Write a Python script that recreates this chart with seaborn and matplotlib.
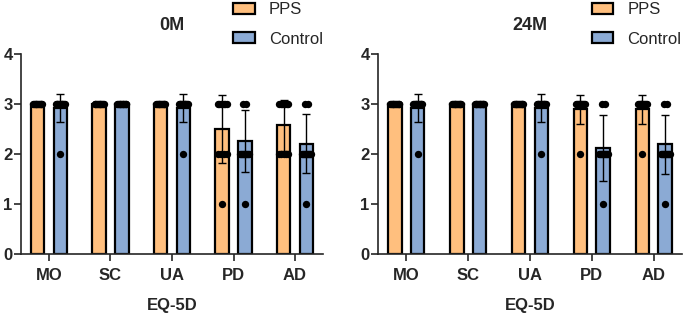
import numpy as np
import pandas as pd
import matplotlib
matplotlib.use("Agg")
import matplotlib.pyplot as plt
from matplotlib import font_manager as fm
import seaborn as sns

# EQ-5D dimensions and groups
dims = ["MO", "SC", "UA", "PD", "AD"]
groups = ["PPS", "Control"]
levels = [3, 2, 1]

# bar heights (mean) and error bars (SD)
mean_0m_pps = [3.0, 3.0, 3.0, 2.5, 2.58]
sd_0m_pps = [0.0, 0.0, 0.0, 0.68, 0.51]
mean_0m_ctrl = [2.92, 3.0, 2.92, 2.27, 2.21]
sd_0m_ctrl = [0.28, 0.0, 0.28, 0.62, 0.59]
mean_24m_pps = [3.0, 3.0, 3.0, 2.9, 2.9]
sd_24m_pps = [0.0, 0.0, 0.0, 0.29, 0.29]
mean_24m_ctrl = [2.92, 3.0, 2.92, 2.13, 2.2]
sd_24m_ctrl = [0.28, 0.0, 0.28, 0.66, 0.59]

# individual scores: number of subjects at level 3 / 2 / 1
pts_0m_pps = [[12, 0, 0], [12, 0, 0], [12, 0, 0], [7, 4, 1], [7, 5, 0]]
pts_0m_ctrl = [[12, 1, 0], [13, 0, 0], [12, 1, 0], [2, 10, 1], [2, 10, 1]]
pts_24m_pps = [[12, 0, 0], [12, 0, 0], [12, 0, 0], [11, 1, 0], [11, 1, 0]]
pts_24m_ctrl = [[12, 1, 0], [13, 0, 0], [12, 1, 0], [2, 10, 1], [2, 10, 1]]

colors = {"PPS": "#FFBF7E", "Control": "#8BAAD4"}

sns.set_style("ticks")
plt.rcParams["font.family"] = ["Liberation Sans", "DejaVu Sans"]
plt.rcParams["axes.linewidth"] = 1.2


def draw_panel(ax, title, means, sds, pts):
    rows = []
    for g, m in zip(groups, means):
        for d, v in zip(dims, m):
            rows.append({"dim": d, "group": g, "mean": v})
    df = pd.DataFrame(rows)

    sns.barplot(data=df, x="dim", y="mean", hue="group", order=dims,
                hue_order=groups, palette=colors, errorbar=None,
                width=0.74, gap=0.4, edgecolor="black", linewidth=1.6,
                saturation=1, ax=ax, zorder=2)

    # error bars and points on top of each bar
    for cont, sd_list, pt_list in zip(ax.containers, sds, pts):
        for bar, sd, counts in zip(cont, sd_list, pt_list):
            xc = bar.get_x() + bar.get_width() / 2
            h = bar.get_height()
            ax.errorbar(xc, h, yerr=sd, color="black", lw=1.0,
                        capsize=2.7, capthick=1.0, zorder=3)
            for lev, k in zip(levels, counts):
                if k == 0:
                    continue
                half = 0.075 * min(k - 1, 3) / 3
                xs = np.linspace(xc - half, xc + half, k)
                ax.scatter(xs, [lev] * k, s=28, color="black",
                           linewidths=0, zorder=4)

    ax.set_xlim(-0.455, 4.455)
    ax.set_ylim(0, 4)
    ax.set_yticks([0, 1, 2, 3, 4])
    ax.set_xlabel("EQ-5D", fontsize=12, fontweight="bold", labelpad=11)
    ax.set_ylabel("")
    ax.set_title(title, fontsize=13, fontweight="bold", pad=17)
    ax.tick_params(axis="both", length=5, width=1.2, labelsize=12)
    ax.tick_params(axis="x", pad=5)
    ax.tick_params(axis="y", pad=1)
    for lab in ax.get_xticklabels() + ax.get_yticklabels():
        lab.set_fontweight("bold")
    sns.despine(ax=ax)

    handles, labels = ax.get_legend_handles_labels()
    ax.legend(handles, labels, loc="upper left",
              bbox_to_anchor=(0.675, 1.3), frameon=False, fontsize=12,
              borderpad=0, handlelength=1.3, handleheight=0.6,
              handletextpad=0.85, labelspacing=0.85)


fig = plt.figure(figsize=(6.85, 3.15), dpi=100)
ax1 = fig.add_axes([21 / 685, 1 - 254 / 315, 302 / 685, 200 / 315])
ax2 = fig.add_axes([378 / 685, 1 - 254 / 315, 304 / 685, 200 / 315])

draw_panel(ax1, "0M", [mean_0m_pps, mean_0m_ctrl], [sd_0m_pps, sd_0m_ctrl],
           [pts_0m_pps, pts_0m_ctrl])
draw_panel(ax2, "24M", [mean_24m_pps, mean_24m_ctrl],
           [sd_24m_pps, sd_24m_ctrl], [pts_24m_pps, pts_24m_ctrl])

fig.savefig("out.png", dpi=100)
